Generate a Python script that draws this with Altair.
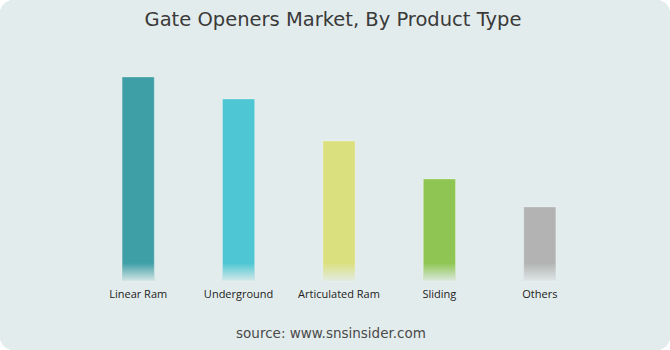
import altair as alt
import pandas as pd

categories = ["Linear Ram", "Underground", "Articulated Ram", "Sliding", "Others"]
values = [204, 182, 140, 102, 74]
colors = ["#3f9fa6", "#4ec6d3", "#dbe07f", "#8fc653", "#b3b3b3"]
title_text = "Gate Openers Market, By Product Type"
source_text = "source: www.snsinsider.com"

BG = "#e3ecec"
df = pd.DataFrame({"cat": categories, "val": values, "fade": [18] * len(values)})

W, H = 502, 221
PL, PT = 88, 60

xenc = alt.X("cat:N", sort=categories,
             scale=alt.Scale(paddingInner=0.68, paddingOuter=0.34),
             axis=alt.Axis(title=None, domain=False, ticks=False, labelAngle=0,
                           labelFont="Open Sans", labelFontSize=11, labelColor="#222",
                           labelPadding=7, zindex=2))
yscale = alt.Scale(domain=[0, 221], nice=False, zero=True)

background = alt.Chart(df).mark_rect(color=BG, cornerRadius=14, clip=False).encode(
    x=alt.value(-PL), x2=alt.value(670 - PL), y=alt.value(-PT), y2=alt.value(350 - PT)
)

bars = alt.Chart(df).mark_bar(stroke="white", strokeOpacity=0.25, strokeWidth=1).encode(
    x=xenc,
    y=alt.Y("val:Q", scale=yscale, axis=None),
    color=alt.Color("cat:N", sort=categories,
                    scale=alt.Scale(domain=categories, range=colors), legend=None),
)

fade = alt.Chart(df).mark_bar(
    color=alt.Gradient(
        gradient="linear",
        stops=[alt.GradientStop(color="rgba(227,236,236,0)", offset=0),
               alt.GradientStop(color="rgba(227,236,236,0.9)", offset=1)],
        x1=0, x2=0, y1=0, y2=1,
    )
).encode(
    x=xenc,
    y=alt.Y("fade:Q", scale=yscale, axis=None),
)

title = alt.Chart(pd.DataFrame({"t": [title_text]})).mark_text(
    font="DejaVu Sans", fontSize=19.5, color="#3a3a3a", align="center", baseline="middle"
).encode(text="t:N", x=alt.value(333 - PL), y=alt.value(20 - PT))

source = alt.Chart(pd.DataFrame({"t": [source_text]})).mark_text(
    font="DejaVu Sans", fontSize=13.5, color="#4a4a4a", align="center", baseline="middle"
).encode(text="t:N", x=alt.value(331 - PL), y=alt.value(334 - PT))

chart = alt.layer(background, bars, fade, title, source).properties(
    width=W, height=H,
    padding={"left": PL, "top": PT, "right": 670 - PL - W, "bottom": 350 - PT - H},
    autosize=alt.AutoSizeParams(type="none"),
    background="white",
).configure_view(stroke=None)

chart.save("out.html", embed_options={"renderer": "svg", "actions": False})
